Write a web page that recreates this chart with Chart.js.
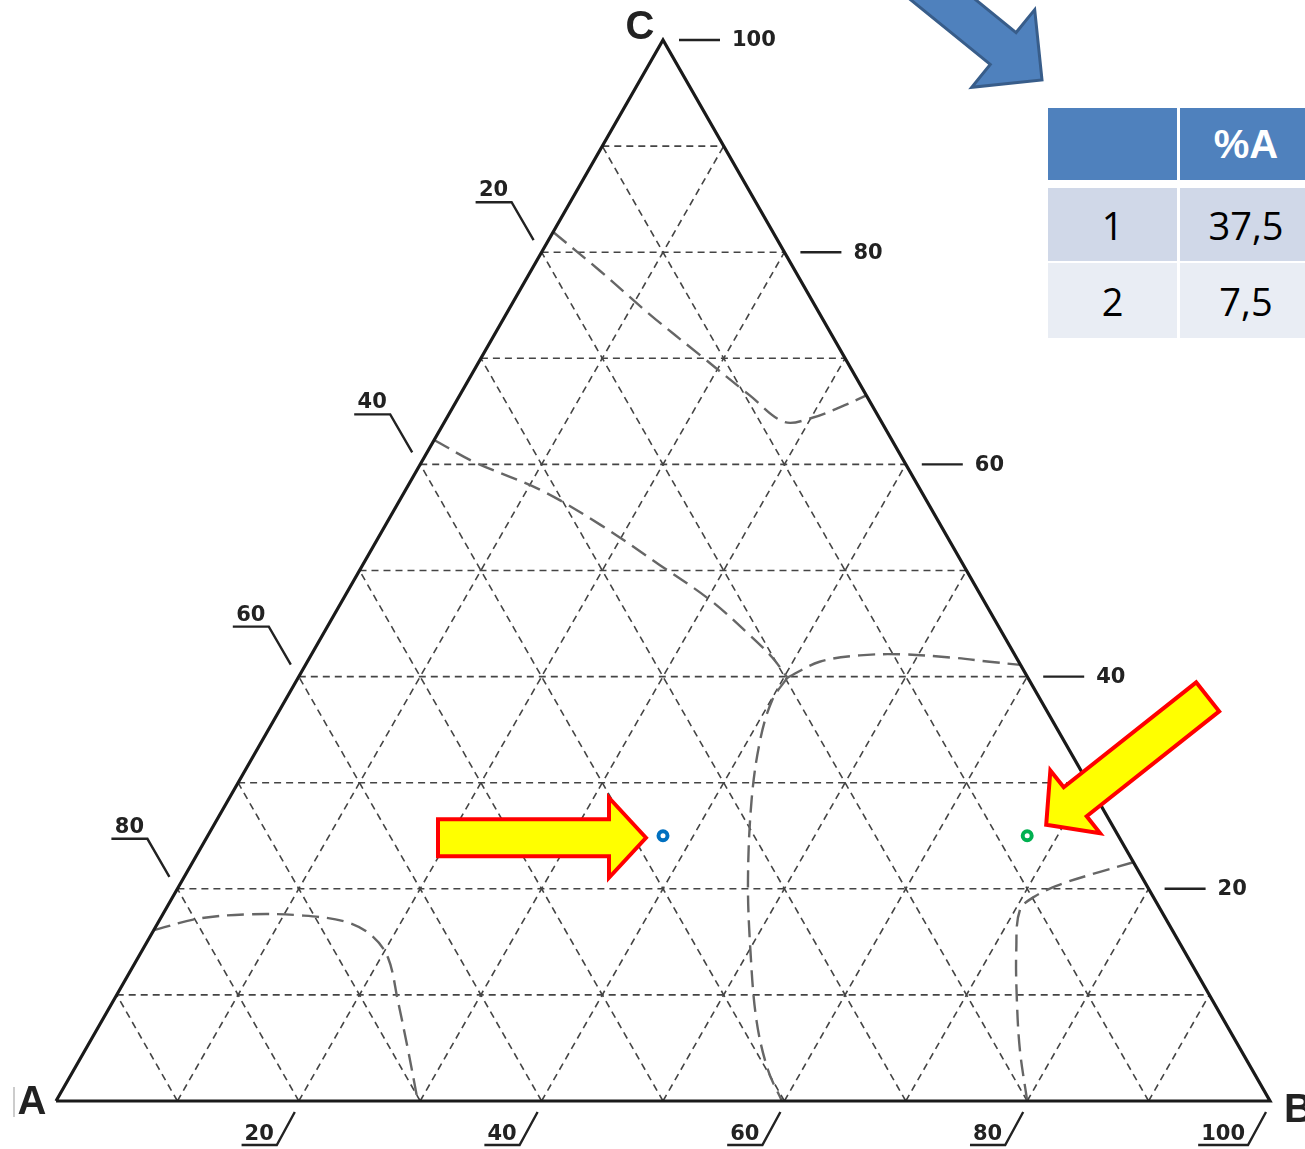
<!DOCTYPE html>
<html>
<head>
<meta charset="utf-8">
<script src="https://cdn.jsdelivr.net/npm/chart.js@4.4.0/dist/chart.umd.min.js"></script>
<style>
  html, body { margin: 0; padding: 0; background: #fff; overflow: hidden; width: 1305px; height: 1149px; }
  #wrap { position: relative; width: 1305px; height: 1149px; overflow: hidden; }
  #plot { position: absolute; left: 0; top: 0; }
  .cell { position: absolute; display: flex; align-items: center; justify-content: center;
          font-family: "Open Sans", "Liberation Sans", sans-serif; font-size: 38px; color: #000; }
  .head { background: #4F81BD; color: #fff; font-weight: bold; font-family: "Liberation Sans", sans-serif; font-size: 40px; }
  .odd { background: #D0D8E8; }
  .even { background: #E9EDF4; }
</style>
</head>
<body>
<div id="wrap">
  <canvas id="plot" width="1305" height="1149"></canvas>
  <div id="table"></div>
</div>
<script>
// ---- data (ternary percentages; A = 100 - B - C) ----
const gridSteps = [10, 20, 30, 40, 50, 60, 70, 80, 90];

// tick labels along each edge
const ticksC = [100, 80, 60, 40, 20];   // right edge
const ticksA = [20, 40, 60, 80];        // left edge
const ticksB = [20, 40, 60, 80, 100];   // base

// boundary curves, as [B, C] pairs
const curveLowerLeft = [[0, 16.1], [3.2, 17.2], [7.2, 17.6], [11.3, 17.5], [15.4, 16.9], [18.2, 15.6],
                        [20.6, 13.5], [23.4, 9.5], [26.6, 4.8], [29.8, 0]];
const curveUpper = [[0, 81.9], [5.6, 78.3], [11.9, 74.1], [17.9, 70.3], [23.9, 66.5], [28.0, 64.0],
                    [30.1, 64.4], [31.9, 65.4], [33.5, 66.5]];
const curveMiddle = [[0, 62.3], [4.4, 60.2], [11.1, 57.6], [17.7, 54.3], [24.5, 50.5], [30.3, 47.2],
                     [35.2, 43.9], [38.1, 41.8], [40.3, 39.9]];
const curveMiddleDown = [[40.3, 39.9], [40.1, 37.8], [41.0, 34.0], [43.1, 28.4], [46.6, 20.8],
                         [50.1, 14.2], [53.9, 7.6], [57.2, 2.9], [59.8, 0]];
const curveMiddleRight = [[40.3, 39.9], [42.2, 41.4], [45.2, 42.0], [48.5, 42.1], [52.8, 41.8],
                          [56.2, 41.4], [58.9, 41.1]];
const curveLowerRight = [[77.5, 22.5], [75.2, 21.6], [72.5, 20.4], [71.0, 19.3], [70.4, 18.0],
                         [72.0, 14.2], [74.4, 9.5], [77.0, 4.8], [80.0, 0]];

// sample compositions
const samples = ['1', '2'];
const sampleA = [37.5, 7.5];
const sampleB = [37.5, 67.5];
const sampleC = [25, 25];
const sampleColors = ['#0070C0', '#00B050'];

// ---- helpers ----
const toXY = (b, c) => ({ x: b + c / 2, y: c });
const seg = (p, q) => [toXY(p[0], p[1]), toXY(q[0], q[1])];

const datasets = [];

// sample points (on top)
samples.forEach((s, i) => {
  datasets.push({
    data: [toXY(sampleB[i], sampleC[i])],
    pointRadius: 4.5, pointBorderWidth: 4,
    pointBorderColor: sampleColors[i], pointBackgroundColor: '#ffffff',
    showLine: false, order: 0
  });
});

// triangle outline
datasets.push({
  data: [toXY(0, 0), toXY(100, 0), toXY(0, 100), toXY(0, 0)],
  showLine: true, borderColor: '#1a1a1a', borderWidth: 3.2, pointRadius: 0,
  borderJoinStyle: 'miter', order: 1
});

// boundary curves
[curveLowerLeft, curveUpper, curveMiddle, curveMiddleDown, curveMiddleRight, curveLowerRight].forEach(cv => {
  datasets.push({
    data: cv.map(p => toXY(p[0], p[1])),
    showLine: true, borderColor: '#666666', borderWidth: 2.4, borderDash: [17, 8],
    pointRadius: 0, tension: 0.35, order: 2
  });
});

// grid lines of constant C, A and B
gridSteps.forEach(k => {
  const lines = [
    seg([0, k], [100 - k, k]),          // C = k
    seg([100 - k, 0], [0, 100 - k]),    // A = k
    seg([k, 0], [k, 100 - k])           // B = k
  ];
  lines.forEach(d => datasets.push({
    data: d, showLine: true, borderColor: '#444444', borderWidth: 1.6, borderDash: [7, 5],
    pointRadius: 0, order: 3
  }));
});

// block arrow with its tip at (tx, ty), pointing along angle
function blockArrow(ctx, tx, ty, angle, len, shaftHalf, headHalf, headLen, fill, stroke, lw) {
  const pts = [[0, 0], [-headLen, -headHalf], [-headLen, -shaftHalf], [-len, -shaftHalf],
               [-len, shaftHalf], [-headLen, shaftHalf], [-headLen, headHalf]];
  const c = Math.cos(angle), s = Math.sin(angle);
  ctx.save();
  ctx.beginPath();
  pts.forEach((p, i) => {
    const x = tx + p[0] * c - p[1] * s;
    const y = ty + p[0] * s + p[1] * c;
    if (i === 0) ctx.moveTo(x, y); else ctx.lineTo(x, y);
  });
  ctx.closePath();
  ctx.fillStyle = fill; ctx.fill();
  ctx.lineJoin = 'miter'; ctx.lineWidth = lw; ctx.strokeStyle = stroke; ctx.stroke();
  ctx.restore();
}

const TABLE_LEFT = 1048, TABLE_TOP = 108;

const labelsPlugin = {
  id: 'ternaryLabels',
  afterDraw(chart) {
    const ctx = chart.ctx;
    const xs = chart.scales.x, ys = chart.scales.y;
    const P = (b, c) => [xs.getPixelForValue(b + c / 2), ys.getPixelForValue(c)];
    ctx.save();
    ctx.fillStyle = '#222'; ctx.strokeStyle = '#222';
    ctx.font = 'bold 21px "DejaVu Sans", sans-serif';
    ctx.lineWidth = 2.4;

    // right edge: C
    ticksC.forEach(c => {
      const [ex, ey] = P(100 - c, c);
      ctx.beginPath(); ctx.moveTo(ex + 16, ey); ctx.lineTo(ex + 57, ey); ctx.stroke();
      ctx.textAlign = 'left'; ctx.textBaseline = 'middle';
      ctx.fillText(String(c), ex + 69, ey + 1);
    });

    // left edge: A
    ticksA.forEach(a => {
      const [ex, ey] = P(0, 100 - a);
      const endX = ex - 8, endY = ey - 12;
      const topX = endX - 22, topY = endY - 38;
      ctx.beginPath(); ctx.moveTo(endX, endY); ctx.lineTo(topX, topY); ctx.lineTo(topX - 36, topY); ctx.stroke();
      ctx.textAlign = 'center'; ctx.textBaseline = 'alphabetic';
      ctx.fillText(String(a), topX - 18, topY - 6);
    });

    // base: B
    ticksB.forEach(b => {
      const [ex, ey] = P(b, 0);
      const topX = ex - 4, topY = ey + 11;
      const botX = topX - 18, botY = topY + 33;
      const w = ctx.measureText(String(b)).width;
      ctx.beginPath(); ctx.moveTo(topX, topY); ctx.lineTo(botX, botY); ctx.lineTo(botX - w - 6, botY); ctx.stroke();
      ctx.textAlign = 'right'; ctx.textBaseline = 'alphabetic';
      ctx.fillText(String(b), botX - 3, botY - 5);
    });

    // vertex letters
    ctx.font = 'bold 40px "Liberation Sans", sans-serif';
    ctx.textAlign = 'center'; ctx.textBaseline = 'middle';
    let [cx, cy] = P(0, 100);
    ctx.fillText('C', cx - 23, cy - 12);
    let [ax, ay] = P(0, 0);
    ctx.fillText('A', ax - 24, ay + 2);
    let [bx, by] = P(100, 0);
    ctx.textAlign = 'left';
    ctx.fillText('B', bx + 14, by + 10);
    ctx.strokeStyle = '#bbb'; ctx.lineWidth = 1.5;
    ctx.beginPath(); ctx.moveTo(14, ay - 14); ctx.lineTo(14, ay + 16); ctx.stroke();
    ctx.restore();

    // pointer arrows
    const [p1x, p1y] = P(sampleB[0], sampleC[0]);
    blockArrow(ctx, p1x - 17, p1y + 2, 0, 208, 18.5, 40, 37, '#FFFF00', '#FF0000', 4);
    const [p2x, p2y] = P(sampleB[1], sampleC[1]);
    blockArrow(ctx, p2x + 19, p2y - 11, Math.atan2(0.621, -0.784), 206, 18.5, 40, 37, '#FFFF00', '#FF0000', 4);
    blockArrow(ctx, TABLE_LEFT - 6, TABLE_TOP - 28, Math.atan2(0.63, 0.776), 220, 20.5, 50, 50, '#4F81BD', '#385D8A', 3);
  }
};

new Chart(document.getElementById('plot'), {
  type: 'scatter',
  data: { datasets },
  options: {
    responsive: false,
    animation: false,
    events: [],
    layout: { padding: 0, autoPadding: false },
    scales: {
      x: { type: 'linear', display: false, min: -56 / 12.14, max: (1305 - 56) / 12.14 },
      y: { type: 'linear', display: false, min: -48 / 10.61, max: 1101 / 10.61 }
    },
    plugins: { legend: { display: false }, tooltip: { enabled: false } }
  },
  plugins: [labelsPlugin]
});

// composition table
(function buildTable() {
  const host = document.getElementById('table');
  const colX = [TABLE_LEFT, 1180], colW = [129, 132];
  const rowY = [TABLE_TOP, 188, 263], rowH = [72, 73, 75];
  const rows = [['', '%A']].concat(samples.map((s, i) => [s, String(sampleA[i]).replace('.', ',')]));
  rows.forEach((r, ri) => {
    r.forEach((txt, ci) => {
      const d = document.createElement('div');
      d.className = 'cell ' + (ri === 0 ? 'head' : (ri % 2 ? 'odd' : 'even'));
      d.style.left = colX[ci] + 'px'; d.style.top = rowY[ri] + 'px';
      d.style.width = colW[ci] + 'px'; d.style.height = rowH[ri] + 'px';
      d.textContent = txt;
      host.appendChild(d);
    });
  });
})();
</script>
</body>
</html>
